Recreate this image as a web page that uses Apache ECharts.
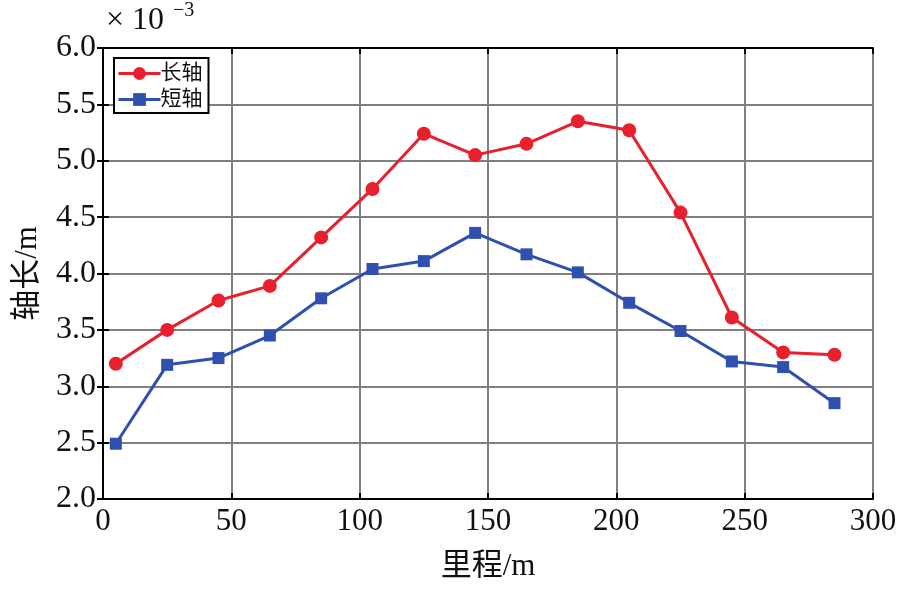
<!DOCTYPE html>
<html>
<head>
<meta charset="utf-8">
<style>
  html, body { margin: 0; padding: 0; background: #fff; }
  #chart { width: 906px; height: 589px; }
</style>
<script src="https://cdn.jsdelivr.net/npm/echarts@6/dist/echarts.min.js"></script>
</head>
<body>
<div id="chart"></div>
<script>
// mileage (m)
var mileage = [5, 25, 45, 65, 85, 105, 125, 145, 165, 185, 205, 225, 245, 265, 285];
// axis lengths, x 10^-3 m
var longAxis = [3.20, 3.50, 3.76, 3.89, 4.32, 4.75, 5.24, 5.05, 5.15, 5.35, 5.27, 4.54, 3.61, 3.30, 3.28];
var shortAxis = [2.49, 3.19, 3.25, 3.45, 3.78, 4.04, 4.11, 4.36, 4.17, 4.01, 3.74, 3.49, 3.22, 3.17, 2.85];
var seriesNames = ['长轴', '短轴'];

var FONT = '"Liberation Serif", "Noto Sans CJK SC", serif';

function pairs(xs, ys) {
  return xs.map(function (x, i) { return [x, ys[i]]; });
}

var chart = echarts.init(document.getElementById('chart'), null, { renderer: 'canvas' });

var gridLine = { show: true, lineStyle: { color: '#808080', width: 2 } };
var tickIn = { show: true, inside: true, length: 6, lineStyle: { color: '#000', width: 2 } };

var option = {
  backgroundColor: '#fff',
  animation: false,
  grid: { left: 103, right: 33, top: 48, bottom: 90, containLabel: false },
  legend: {
    left: 114, top: 58,
    orient: 'vertical',
    itemWidth: 42, itemHeight: 16, itemGap: 5,
    padding: [5, 6, 3, 3],
    borderColor: '#000', borderWidth: 2,
    backgroundColor: '#fff',
    lineStyle: { width: 3 },
    textStyle: { fontFamily: FONT, fontSize: 21, color: '#111', padding: [0, 0, 0, -5] },
    data: seriesNames
  },
  xAxis: [{
    type: 'value', min: 0, max: 300, interval: 50,
    name: '里程/m', nameLocation: 'middle', nameGap: 52,
    nameTextStyle: { fontFamily: FONT, fontSize: 31, color: '#111' },
    axisLine: { show: true, lineStyle: { color: '#000', width: 2 } },
    axisTick: tickIn,
    axisLabel: { fontFamily: FONT, fontSize: 31, color: '#111', margin: 7 },
    splitLine: gridLine
  }, {
    type: 'value', min: 0, max: 300, interval: 50, position: 'top',
    axisLine: { show: true, lineStyle: { color: '#000', width: 2 } },
    axisTick: tickIn, axisLabel: { show: false }, splitLine: { show: false }
  }],
  yAxis: [{
    type: 'value', min: 2, max: 6, interval: 0.5,
    name: '轴长/m', nameLocation: 'middle', nameGap: 60,
    nameTextStyle: { fontFamily: FONT, fontSize: 31, color: '#111' },
    axisLine: { show: true, lineStyle: { color: '#000', width: 2 } },
    axisTick: tickIn,
    axisLabel: {
      fontFamily: FONT, fontSize: 32, color: '#111', margin: 7,
      formatter: function (v) { return v.toFixed(1); }
    },
    splitLine: gridLine
  }, {
    type: 'value', min: 2, max: 6, interval: 0.5, position: 'right',
    axisLine: { show: true, lineStyle: { color: '#000', width: 2 } },
    axisTick: tickIn, axisLabel: { show: false }, splitLine: { show: false }
  }],
  graphic: [
    { type: 'text', left: 106, top: 5, style: { text: '× 10', font: '32px ' + FONT, fill: '#111' } },
    { type: 'text', left: 173, top: 1, style: { text: '−3', font: '20px ' + FONT, fill: '#111' } }
  ],
  series: [{
    name: seriesNames[0], type: 'line',
    data: pairs(mileage, longAxis),
    symbol: 'circle', symbolSize: 14,
    lineStyle: { color: '#e8202e', width: 3 },
    itemStyle: { color: '#e8202e' },
    z: 3
  }, {
    name: seriesNames[1], type: 'line',
    data: pairs(mileage, shortAxis),
    symbol: 'rect', symbolSize: 12,
    lineStyle: { color: '#3050b0', width: 3 },
    itemStyle: { color: '#3050b0' },
    z: 4
  }]
};

chart.setOption(option);
window.addEventListener('resize', chart.resize);
</script>
</body>
</html>
